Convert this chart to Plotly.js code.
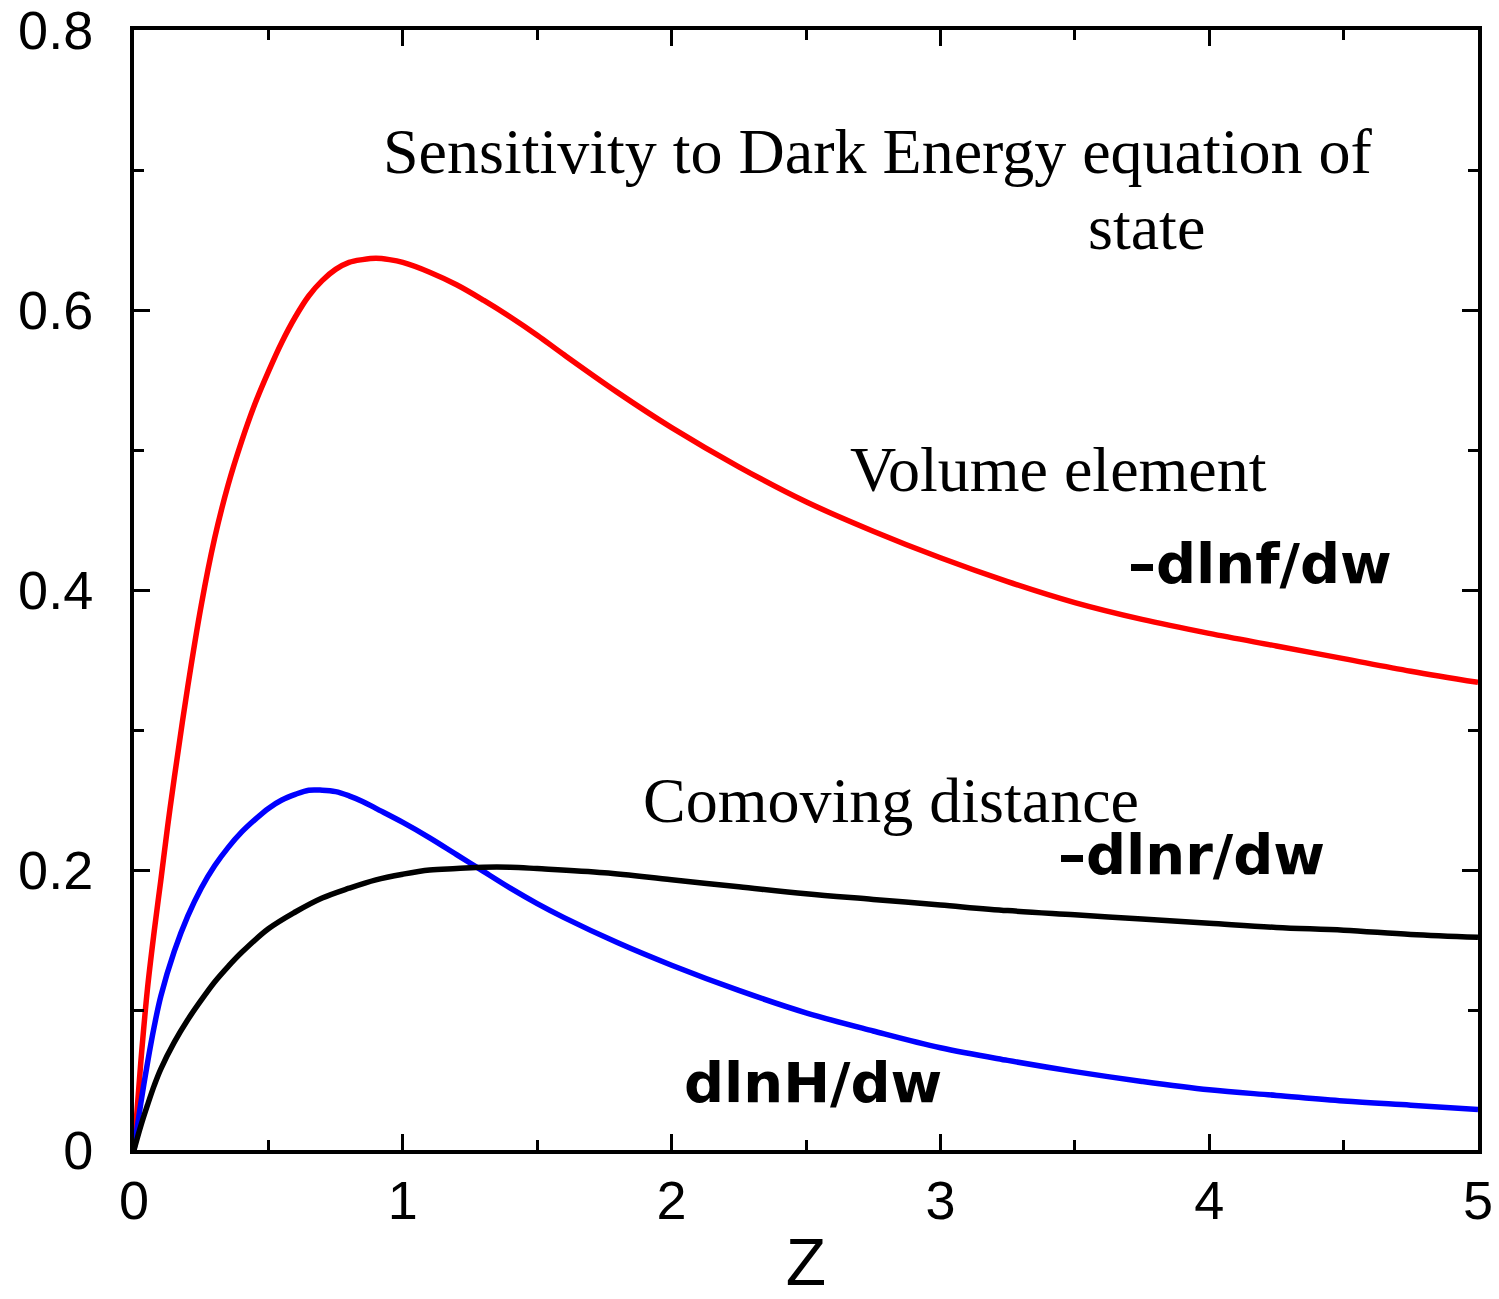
<!DOCTYPE html>
<html>
<head>
<meta charset="utf-8">
<script src="https://cdn.plot.ly/plotly-3.0.1.min.js"></script>
<style>html,body{margin:0;padding:0;background:#fff;}#chart{width:1499px;height:1299px;}</style>
</head>
<body>
<div id="chart"></div>
<script>
// Volume element  -dlnf/dw (red)
const zRed = [0, 0.025, 0.05, 0.075, 0.1, 0.125, 0.15, 0.2, 0.25, 0.3, 0.35, 0.4, 0.45, 0.5, 0.55, 0.6, 0.65, 0.7, 0.75, 0.8, 0.85, 0.9, 0.95, 1.0, 1.1, 1.2, 1.3, 1.4, 1.5, 1.6, 1.8, 2.0, 2.25, 2.5, 2.75, 3.0, 3.25, 3.5, 3.75, 4.0, 4.25, 4.5, 4.75, 5.0];
const volumeElement = [0, 0.062, 0.115, 0.156, 0.193, 0.231, 0.266, 0.331, 0.389, 0.437, 0.475, 0.506, 0.533, 0.556, 0.577, 0.595, 0.61, 0.621, 0.629, 0.634, 0.636, 0.637, 0.636, 0.634, 0.627, 0.618, 0.607, 0.595, 0.582, 0.568, 0.541, 0.516, 0.488, 0.463, 0.442, 0.423, 0.406, 0.391, 0.379, 0.369, 0.36, 0.351, 0.342, 0.334];
// dlnH/dw (blue)
const zBlue = [0, 0.025, 0.05, 0.075, 0.1, 0.15, 0.2, 0.25, 0.3, 0.35, 0.4, 0.45, 0.5, 0.55, 0.6, 0.65, 0.7, 0.75, 0.8, 0.85, 0.9, 1.0, 1.1, 1.2, 1.3, 1.4, 1.5, 1.6, 1.8, 2.0, 2.25, 2.5, 2.75, 3.0, 3.25, 3.5, 3.75, 4.0, 4.25, 4.5, 4.75, 5.0];
const hubble = [0, 0.033, 0.062, 0.088, 0.11, 0.142, 0.167, 0.187, 0.203, 0.216, 0.227, 0.236, 0.244, 0.25, 0.254, 0.257, 0.257, 0.256, 0.253, 0.249, 0.244, 0.234, 0.223, 0.211, 0.199, 0.187, 0.176, 0.166, 0.148, 0.132, 0.114, 0.098, 0.085, 0.073, 0.064, 0.056, 0.049, 0.043, 0.039, 0.035, 0.032, 0.029];
// Comoving distance -dlnr/dw (black)
const zBlack = [0, 0.025, 0.05, 0.075, 0.1, 0.15, 0.2, 0.25, 0.3, 0.35, 0.4, 0.5, 0.6, 0.7, 0.8, 0.9, 1.0, 1.1, 1.2, 1.3, 1.4, 1.5, 1.75, 2.0, 2.25, 2.5, 2.75, 3.0, 3.25, 3.5, 3.75, 4.0, 4.25, 4.5, 4.75, 5.0];
const comoving = [0, 0.017, 0.032, 0.046, 0.058, 0.077, 0.093, 0.107, 0.12, 0.131, 0.141, 0.158, 0.17, 0.18, 0.187, 0.193, 0.197, 0.2, 0.201, 0.202, 0.202, 0.201, 0.198, 0.193, 0.188, 0.183, 0.179, 0.175, 0.171, 0.168, 0.165, 0.162, 0.159, 0.157, 0.154, 0.152];

const xTicks = [0, 1, 2, 3, 4, 5];
const yTicks = [0, 0.2, 0.4, 0.6, 0.8];
const yTickText = ['0', '0.2', '0.4', '0.6', '0.8'];

const traces = [
  {x: zRed, y: volumeElement, mode: 'lines', line: {color: '#ff0000', width: 5.5, shape: 'spline', smoothing: 1}, name: 'Volume element'},
  {x: zBlue, y: hubble, mode: 'lines', line: {color: '#0000ff', width: 5.5, shape: 'spline', smoothing: 1}, name: 'dlnH/dw'},
  {x: zBlack, y: comoving, mode: 'lines', line: {color: '#000000', width: 5.5, shape: 'spline', smoothing: 1}, name: 'Comoving distance'}
];

const serif = {family: 'Liberation Serif, Times New Roman, serif', size: 64, color: '#000'};
const bold = {family: 'DejaVu Sans, sans-serif', size: 56, color: '#000', weight: 'bold'};
const sans = 'Liberation Sans, Arial, sans-serif';

const layout = {
  width: 1499, height: 1299,
  margin: {l: 134, r: 21, t: 30, b: 149},
  paper_bgcolor: '#fff', plot_bgcolor: '#fff',
  showlegend: false,
  font: {family: sans, color: '#000'},
  xaxis: {
    range: [0, 5], tickvals: xTicks, ticktext: xTicks.map(String),
    showgrid: false, zeroline: false, showline: true, linecolor: '#000', linewidth: 4, mirror: 'ticks',
    ticks: 'inside', ticklen: 16, tickwidth: 3, tickcolor: '#000',
    minor: {dtick: 0.5, tick0: 0, ticks: 'inside', ticklen: 10, tickwidth: 3, tickcolor: '#000', showgrid: false},
    tickfont: {family: sans, size: 54},
    ticklabelstandoff: 0, ticklabeloverflow: 'allow',
    title: {text: 'Z', font: {family: sans, size: 66}, standoff: 22}
  },
  yaxis: {
    range: [0, 0.8], tickvals: yTicks, ticktext: yTickText,
    showgrid: false, zeroline: false, showline: true, linecolor: '#000', linewidth: 4, mirror: 'ticks',
    ticks: 'inside', ticklen: 16, tickwidth: 3, tickcolor: '#000',
    minor: {dtick: 0.1, tick0: 0, ticks: 'inside', ticklen: 10, tickwidth: 3, tickcolor: '#000', showgrid: false},
    tickfont: {family: sans, size: 54},
    ticklabelstandoff: 26, ticklabeloverflow: 'allow'
  },
  annotations: [
    {x: 0.92, y: 0.713, xref: 'x', yref: 'y', xanchor: 'left', yanchor: 'middle', showarrow: false, text: 'Sensitivity to Dark Energy equation of', font: serif},
    {x: 3.54, y: 0.659, xref: 'x', yref: 'y', xanchor: 'left', yanchor: 'middle', showarrow: false, text: 'state', font: serif},
    {x: 2.655, y: 0.486, xref: 'x', yref: 'y', xanchor: 'left', yanchor: 'middle', showarrow: false, text: 'Volume element', font: serif},
    {x: 1.885, y: 0.25, xref: 'x', yref: 'y', xanchor: 'left', yanchor: 'middle', showarrow: false, text: 'Comoving distance', font: serif},
    {x: 3.69, y: 0.419, xref: 'x', yref: 'y', xanchor: 'left', yanchor: 'middle', showarrow: false, text: '–dlnf/dw', font: bold},
    {x: 3.43, y: 0.211, xref: 'x', yref: 'y', xanchor: 'left', yanchor: 'middle', showarrow: false, text: '–dlnr/dw', font: bold},
    {x: 2.04, y: 0.048, xref: 'x', yref: 'y', xanchor: 'left', yanchor: 'middle', showarrow: false, text: 'dlnH/dw', font: bold}
  ]
};

Plotly.newPlot('chart', traces, layout, {displayModeBar: false, staticPlot: true});
</script>
</body>
</html>
